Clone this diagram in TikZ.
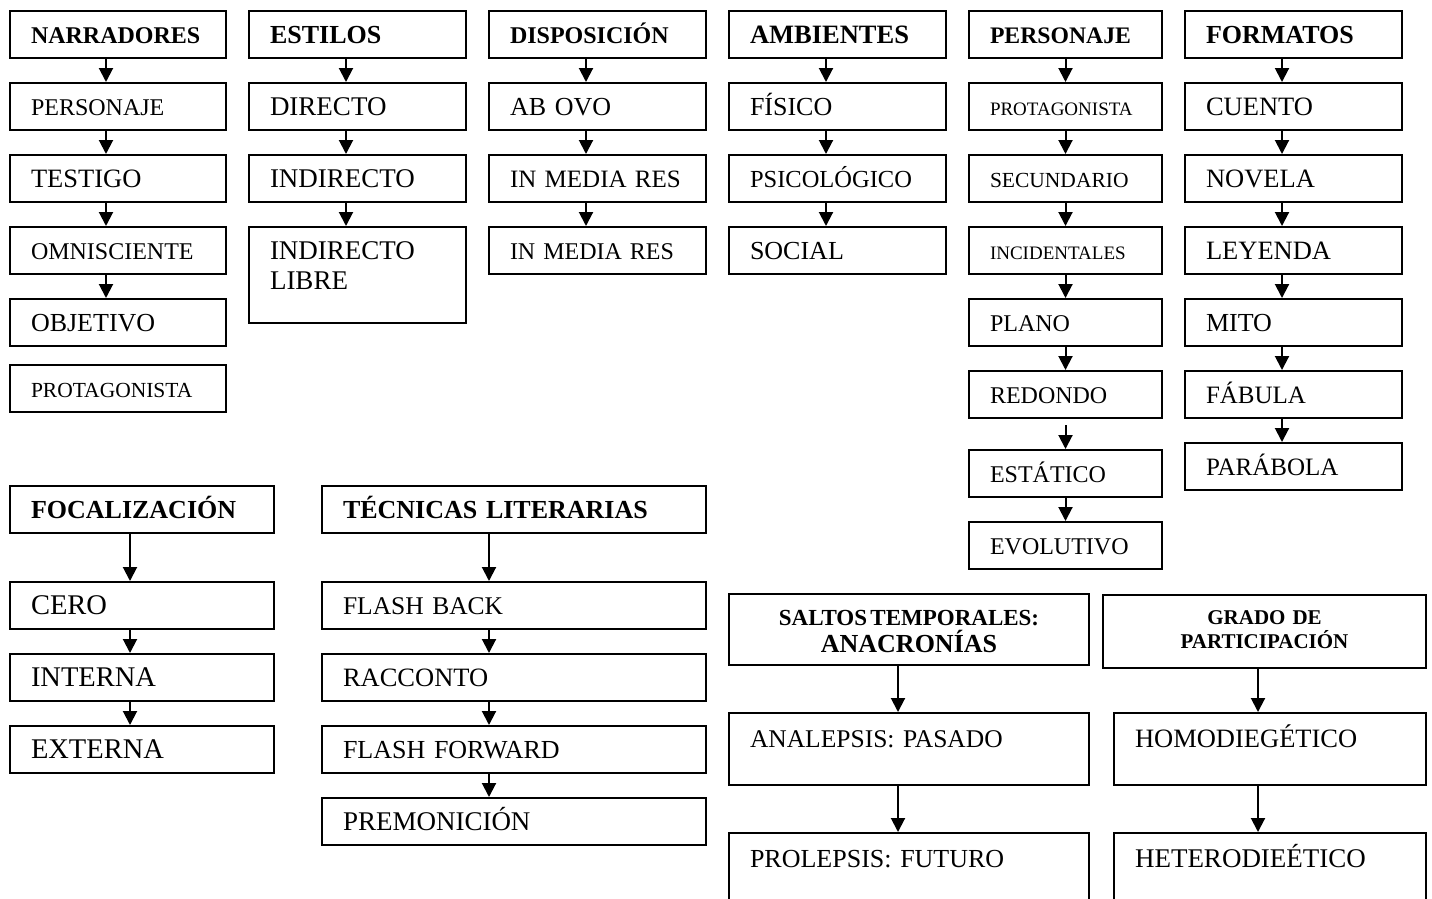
\documentclass[tikz,border=0pt]{standalone}
\usepackage{fontspec}
\setmainfont{Liberation Serif}
\usetikzlibrary{arrows.meta}
\tikzset{
  box/.style={draw, line width=2pt, anchor=north west, inner xsep=21pt, inner ysep=0pt,
    text width=#1, align=left, minimum height=47pt, text height=17pt, text depth=0pt},
  fz/.style={font=\fontsize{#1}{#1}\selectfont},
  hd/.style={font=\fontsize{#1}{#1}\selectfont\bfseries},
  arr/.style={line width=2pt, -{Triangle[length=14pt,width=14pt]}}
}
\begin{document}
\begin{tikzpicture}[x=1pt,y=-1pt]
\path[use as bounding box, clip] (0,0) rectangle (1432,898);
% narradores
\node[box=174pt, hd=24] (nar0) at (9,10){NARRADORES};
\node[box=174pt, fz=24] (nar1) at (9,82){PERSONAJE};
\node[box=174pt, fz=26.5] (nar2) at (9,154){TESTIGO};
\node[box=174pt, fz=24] (nar3) at (9,226){OMNISCIENTE};
\node[box=174pt, fz=26] (nar4) at (9,298){OBJETIVO};
\node[box=174pt, fz=21.5] (nar5) at (9,364){PROTAGONISTA};
\draw[arr] ([xshift=-12pt]nar0.south) -- ([xshift=-12pt]nar1.north);
\draw[arr] ([xshift=-12pt]nar1.south) -- ([xshift=-12pt]nar2.north);
\draw[arr] ([xshift=-12pt]nar2.south) -- ([xshift=-12pt]nar3.north);
\draw[arr] ([xshift=-12pt]nar3.south) -- ([xshift=-12pt]nar4.north);
% estilos
\node[box=175pt, hd=26] (est0) at (248,10){ESTILOS};
\node[box=175pt, fz=27] (est1) at (248,82){DIRECTO};
\node[box=175pt, fz=27] (est2) at (248,154){INDIRECTO};
\node[box=175pt, font=\fontsize{27}{30}\selectfont, text height=32pt, text depth=64pt] (est3) at (248,226){INDIRECTO LIBRE};
\draw[arr] ([xshift=-11.5pt]est0.south) -- ([xshift=-11.5pt]est1.north);
\draw[arr] ([xshift=-11.5pt]est1.south) -- ([xshift=-11.5pt]est2.north);
\draw[arr] ([xshift=-11.5pt]est2.south) -- ([xshift=-11.5pt]est3.north);
% disposicion
\node[box=175pt, hd=24] (dis0) at (488,10){DISPOSICIÓN};
\node[box=175pt, fz=26] (dis1) at (488,82){AB OVO};
\node[box=175pt, fz=25] (dis2) at (488,154){IN MEDIA RES};
\node[box=175pt, fz=24] (dis3) at (488,226){IN MEDIA RES};
\draw[arr] ([xshift=-11.5pt]dis0.south) -- ([xshift=-11.5pt]dis1.north);
\draw[arr] ([xshift=-11.5pt]dis1.south) -- ([xshift=-11.5pt]dis2.north);
\draw[arr] ([xshift=-11.5pt]dis2.south) -- ([xshift=-11.5pt]dis3.north);
% ambientes
\node[box=175pt, hd=26.5] (amb0) at (728,10){AMBIENTES};
\node[box=175pt, fz=26] (amb1) at (728,82){FÍSICO};
\node[box=175pt, fz=24.5] (amb2) at (728,154){PSICOLÓGICO};
\node[box=175pt, fz=26] (amb3) at (728,226){SOCIAL};
\draw[arr] ([xshift=-11.5pt]amb0.south) -- ([xshift=-11.5pt]amb1.north);
\draw[arr] ([xshift=-11.5pt]amb1.south) -- ([xshift=-11.5pt]amb2.north);
\draw[arr] ([xshift=-11.5pt]amb2.south) -- ([xshift=-11.5pt]amb3.north);
% personaje
\node[box=151pt, hd=23.7] (per0) at (968,10){PERSONAJE};
\node[box=151pt, fz=19] (per1) at (968,82){PROTAGONISTA};
\node[box=151pt, fz=21.5] (per2) at (968,154){SECUNDARIO};
\node[box=151pt, fz=19] (per3) at (968,226){INCIDENTALES};
\node[box=151pt, fz=24] (per4) at (968,298){PLANO};
\node[box=151pt, fz=24] (per5) at (968,370){REDONDO};
\node[box=151pt, fz=24] (per6) at (968,449){ESTÁTICO};
\node[box=151pt, fz=24] (per7) at (968,521){EVOLUTIVO};
\draw[arr] (per0.south) -- (per1.north);
\draw[arr] (per1.south) -- (per2.north);
\draw[arr] (per2.south) -- (per3.north);
\draw[arr] (per3.south) -- (per4.north);
\draw[arr] (per4.south) -- (per5.north);
\draw[arr] ([yshift=-6pt]per5.south) -- (per6.north);
\draw[arr] (per6.south) -- (per7.north);
% formatos
\node[box=175pt, hd=26] (for0) at (1184,10){FORMATOS};
\node[box=175pt, fz=26.5] (for1) at (1184,82){CUENTO};
\node[box=175pt, fz=26.5] (for2) at (1184,154){NOVELA};
\node[box=175pt, fz=26.5] (for3) at (1184,226){LEYENDA};
\node[box=175pt, fz=26] (for4) at (1184,298){MITO};
\node[box=175pt, fz=25] (for5) at (1184,370){FÁBULA};
\node[box=175pt, fz=25] (for6) at (1184,442){PARÁBOLA};
\draw[arr] ([xshift=-11.5pt]for0.south) -- ([xshift=-11.5pt]for1.north);
\draw[arr] ([xshift=-11.5pt]for1.south) -- ([xshift=-11.5pt]for2.north);
\draw[arr] ([xshift=-11.5pt]for2.south) -- ([xshift=-11.5pt]for3.north);
\draw[arr] ([xshift=-11.5pt]for3.south) -- ([xshift=-11.5pt]for4.north);
\draw[arr] ([xshift=-11.5pt]for4.south) -- ([xshift=-11.5pt]for5.north);
\draw[arr] ([xshift=-11.5pt]for5.south) -- ([xshift=-11.5pt]for6.north);
% focalizacion
\node[box=222pt, hd=26] (foc0) at (9,485){FOCALIZACIÓN};
\node[box=222pt, fz=28.5] (foc1) at (9,581){CERO};
\node[box=222pt, fz=28.5] (foc2) at (9,653){INTERNA};
\node[box=222pt, fz=28.5] (foc3) at (9,725){EXTERNA};
\draw[arr] ([xshift=-12pt]foc0.south) -- ([xshift=-12pt]foc1.north);
\draw[arr] ([xshift=-12pt]foc1.south) -- ([xshift=-12pt]foc2.north);
\draw[arr] ([xshift=-12pt]foc2.south) -- ([xshift=-12pt]foc3.north);
% tecnicas literarias
\node[box=342pt, hd=26] (tec0) at (321,485){TÉCNICAS LITERARIAS};
\node[box=342pt, fz=25.5] (tec1) at (321,581){FLASH BACK};
\node[box=342pt, fz=26.5] (tec2) at (321,653){RACCONTO};
\node[box=342pt, fz=26] (tec3) at (321,725){FLASH FORWARD};
\node[box=342pt, fz=27] (tec4) at (321,797){PREMONICIÓN};
\draw[arr] ([xshift=-25pt]tec0.south) -- ([xshift=-25pt]tec1.north);
\draw[arr] ([xshift=-25pt]tec1.south) -- ([xshift=-25pt]tec2.north);
\draw[arr] ([xshift=-25pt]tec2.south) -- ([xshift=-25pt]tec3.north);
\draw[arr] ([xshift=-25pt]tec3.south) -- ([xshift=-25pt]tec4.north);
% saltos temporales
\node[box=318pt, align=center, font=\bfseries, text height=31pt, text depth=40pt] (sal0) at (728,593){\fontsize{23}{29}\selectfont SALTOS TEMPORALES:\\[4pt] \fontsize{26}{29}\selectfont ANACRONÍAS};
\node[box=318pt, fz=25.5, text height=34pt, text depth=38pt] (sal1) at (728,712){ANALEPSIS: PASADO};
\node[box=318pt, fz=26, text height=34pt, text depth=38pt] (sal2) at (728,832){PROLEPSIS: FUTURO};
\draw[arr] ([xshift=-11pt]sal0.south) -- ([xshift=-11pt]sal1.north);
\draw[arr] ([xshift=-11pt]sal1.south) -- ([xshift=-11pt]sal2.north);
% grado de participacion
\node[box=281pt, align=center, font=\fontsize{21}{24}\selectfont\bfseries, text height=29pt, text depth=44pt] (gra0) at (1102,594){GRADO DE\\ PARTICIPACIÓN};
\node[box=270pt, fz=26.5, text height=34pt, text depth=38pt] (gra1) at (1113,712){HOMODIEGÉTICO};
\node[box=270pt, fz=27, text height=34pt, text depth=38pt] (gra2) at (1113,832){HETERODIEÉTICO};
\draw[arr] ([xshift=-6.5pt]gra0.south) -- ([xshift=-12pt]gra1.north);
\draw[arr] ([xshift=-12pt]gra1.south) -- ([xshift=-12pt]gra2.north);
\end{tikzpicture}
\end{document}
